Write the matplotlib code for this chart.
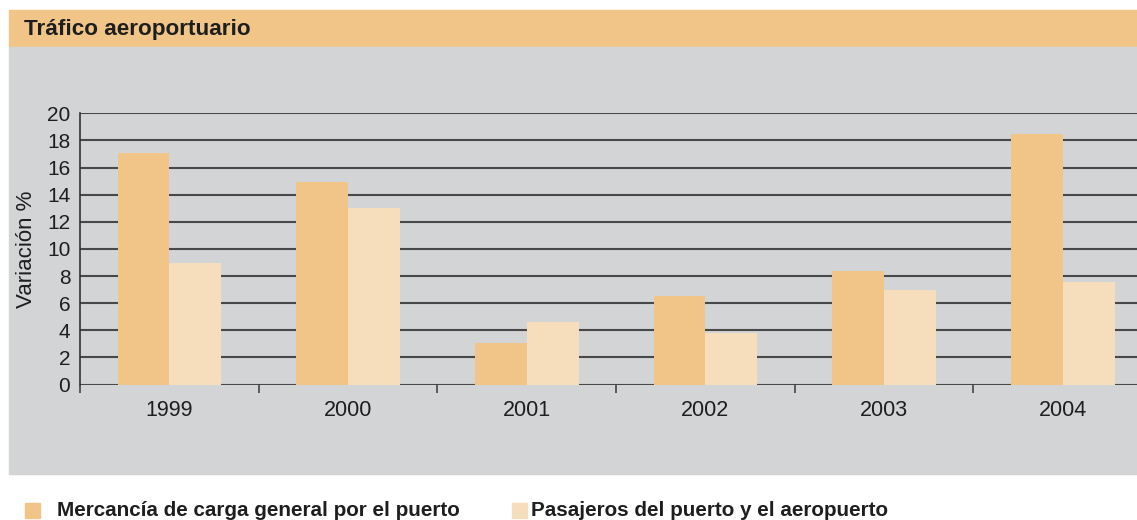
import numpy as np
import matplotlib.pyplot as plt
from matplotlib.patches import Rectangle

plt.rcParams['font.family'] = ['Liberation Sans', 'DejaVu Sans']

years = ['1999', '2000', '2001', '2002', '2003', '2004']
mercancia = [17.1, 14.9, 3.1, 6.5, 8.4, 18.5]
pasajeros = [9.0, 13.0, 4.6, 3.8, 7.0, 7.6]

orange = '#f0c587'
light = '#f6debc'
panel = '#d3d4d6'
ink = '#1e1e1e'

W, H = 1137, 520
fig = plt.figure(figsize=(W / 100, H / 100), dpi=100)

# background panels (title band + gray box), behind the axes
fig.patches.append(Rectangle((9 / W, 1 - 47 / H), 1, 37 / H, transform=fig.transFigure,
                             color=orange, zorder=-2))
fig.patches.append(Rectangle((9 / W, 1 - 474 / H), 1, 427 / H, transform=fig.transFigure,
                             color=panel, zorder=-2))
fig.text(24 / W, 1 - 29 / H, 'Tráfico aeroportuario', fontsize=16.2, fontweight='bold',
         color=ink, va='center')

# axes: x from 80px, category width ~178.7px (last one runs off the page)
cw = 178.7
left, right = 80, 80 + 6 * cw
top, bottom = 113.3, 384.6
ax = fig.add_axes([left / W, 1 - bottom / H, (right - left) / W, (bottom - top) / H])
ax.set_facecolor('none')

x = np.arange(len(years))
bw = 0.29
ax.bar(x - bw / 2, mercancia, bw, color=orange, zorder=3)
ax.bar(x + bw / 2, pasajeros, bw, color=light, zorder=3)

ax.set_xlim(-0.5, len(years) - 0.5)
ax.set_ylim(0, 20)
ax.set_yticks(range(0, 21, 2))
ax.yaxis.grid(True, color='#484848', linewidth=1.5, zorder=1)
ax.set_axisbelow(True)
for s in ['top', 'right', 'bottom']:
    ax.spines[s].set_visible(False)
ax.spines['left'].set_color('#333333')
ax.spines['left'].set_linewidth(1.2)
ax.tick_params(axis='y', length=0, labelsize=15, pad=7, colors=ink)

ax.set_xticks(x)
ax.set_xticklabels(years)
ax.tick_params(axis='x', length=0, labelsize=15.5, pad=11, colors=ink)
ax.set_xticks(np.arange(-0.5, len(years), 1), minor=True)
ax.tick_params(axis='x', which='minor', length=6, width=1.2, color='#444444', direction='out')

ax.set_ylabel('Variación %', fontsize=16, color=ink)
ax.yaxis.set_label_coords(-(80 - 26) / (right - left), 0.5)
ax.yaxis.label.set_va('center')

# legend
for lx, tx, col, lab in [(25, 57, orange, 'Mercancía de carga general por el puerto'),
                         (512, 531, light, 'Pasajeros del puerto y el aeropuerto')]:
    fig.patches.append(Rectangle((lx / W, 1 - 518 / H), 15 / W, 15 / H,
                                 transform=fig.transFigure, color=col))
    fig.text(tx / W, 1 - 510 / H, lab, fontsize=14.85, fontweight='bold', color=ink,
             va='center')

fig.savefig('out.png', dpi=100)
